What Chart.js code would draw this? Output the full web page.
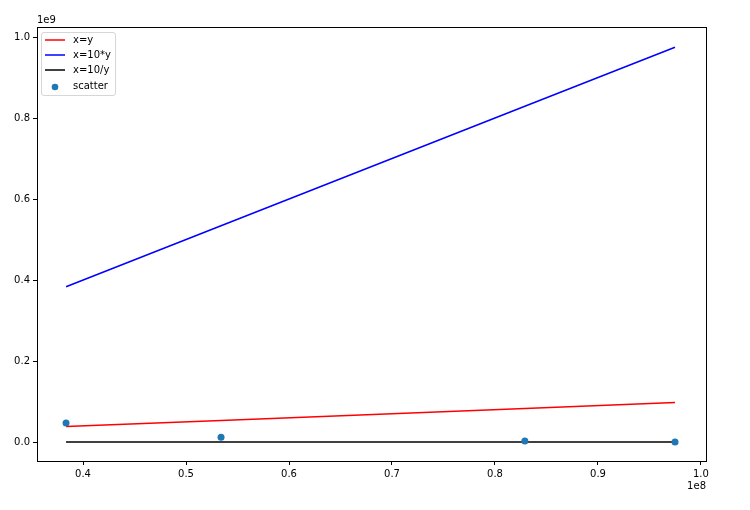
<!DOCTYPE html>
<html>
<head>
<meta charset="utf-8">
<script src="https://cdn.jsdelivr.net/npm/chart.js@4/dist/chart.umd.min.js"></script>
<style>
  html, body { margin: 0; padding: 0; background: #ffffff; }
  #wrap { width: 750px; height: 510px; position: relative; }
</style>
</head>
<body>
<div id="wrap"><canvas id="c" width="750" height="510"></canvas></div>
<script>
// ---- data ----
const xValues      = [38350000, 53400000, 82900000, 97480000];
const lineXeqY     = [38350000, 53400000, 82900000, 97480000];
const lineXeq10Y   = [383500000, 534000000, 829000000, 974800000];
const lineXeq10divY = [2.6e-7, 1.9e-7, 1.2e-7, 1.0e-7];
const scatterY     = [47000000, 12000000, 2500000, 300000];
const seriesNames  = ['x=y', 'x=10*y', 'x=10/y', 'scatter'];
const xTicks = [40000000, 50000000, 60000000, 70000000, 80000000, 90000000, 100000000];
const yTicks = [0, 200000000, 400000000, 600000000, 800000000, 1000000000];
const xOffsetLabel = '1e8';
const yOffsetLabel = '1e9';

const pts = (ys) => xValues.map((x, i) => ({ x: x, y: ys[i] }));
const FONT = '"DejaVu Sans", sans-serif';

const framePlugin = {
  id: 'frame',
  afterDraw(chart) {
    const { ctx, chartArea: a } = chart;
    ctx.save();
    ctx.strokeStyle = '#000000';
    ctx.lineWidth = 1;
    ctx.strokeRect(Math.round(a.left) + 0.5, Math.round(a.top) + 0.5,
                   Math.round(a.right - a.left), Math.round(a.bottom - a.top));
    // offset labels
    ctx.fillStyle = '#000000';
    ctx.font = '10px ' + FONT;
    ctx.textBaseline = 'bottom';
    ctx.textAlign = 'left';
    ctx.fillText(yOffsetLabel, a.left, a.top - 2);
    ctx.textAlign = 'right';
    ctx.textBaseline = 'top';
    ctx.fillText(xOffsetLabel, a.right, a.bottom + 20);

    // legend
    const lx = a.left + 4, ly = a.top + 5, lw = 74, lh = 63;
    ctx.fillStyle = 'rgba(255,255,255,0.8)';
    ctx.strokeStyle = 'rgba(204,204,204,0.8)';
    ctx.lineWidth = 1;
    const r = 2.5;
    ctx.beginPath();
    ctx.moveTo(lx + r + 0.5, ly + 0.5);
    ctx.arcTo(lx + lw + 0.5, ly + 0.5, lx + lw + 0.5, ly + lh + 0.5, r);
    ctx.arcTo(lx + lw + 0.5, ly + lh + 0.5, lx + 0.5, ly + lh + 0.5, r);
    ctx.arcTo(lx + 0.5, ly + lh + 0.5, lx + 0.5, ly + 0.5, r);
    ctx.arcTo(lx + 0.5, ly + 0.5, lx + lw + 0.5, ly + 0.5, r);
    ctx.closePath();
    ctx.fill();
    ctx.stroke();
    ctx.font = '10px ' + FONT;
    ctx.textAlign = 'left';
    ctx.textBaseline = 'middle';
    chart.data.datasets.forEach((ds, i) => {
      const yy = ly + 8 + i * 15;
      if (ds.showLine) {
        ctx.strokeStyle = ds.borderColor;
        ctx.lineWidth = 1.5;
        ctx.beginPath();
        ctx.moveTo(lx + 4, yy);
        ctx.lineTo(lx + 24, yy);
        ctx.stroke();
      } else {
        ctx.fillStyle = ds.backgroundColor;
        ctx.beginPath();
        ctx.arc(lx + 14, yy + 2, 3.3, 0, Math.PI * 2);
        ctx.fill();
      }
      ctx.fillStyle = '#000000';
      ctx.fillText(ds.label, lx + 32, yy + (ds.showLine ? 0 : 1));
    });
    ctx.restore();
  }
};

const lineDs = (label, color, ys) => ({
  label: label, data: pts(ys), showLine: true, borderColor: color,
  backgroundColor: color, borderWidth: 1.5, pointRadius: 0, pointHoverRadius: 0,
  tension: 0, order: 2
});

new Chart(document.getElementById('c'), {
  type: 'scatter',
  data: {
    datasets: [
      lineDs(seriesNames[0], '#ff0000', lineXeqY),
      lineDs(seriesNames[1], '#0000ff', lineXeq10Y),
      lineDs(seriesNames[2], '#000000', lineXeq10divY),
      { label: seriesNames[3], data: pts(scatterY), showLine: false,
        backgroundColor: '#1f77b4', borderColor: '#1f77b4', borderWidth: 0,
        pointRadius: 3.5, pointHoverRadius: 3.5, order: 1 }
    ]
  },
  options: {
    responsive: false,
    animation: false,
    devicePixelRatio: 1,
    layout: { padding: { top: 27, right: 44, left: 0, bottom: 0 } },
    plugins: { legend: { display: false }, tooltip: { enabled: false } },
    scales: {
      x: {
        type: 'linear',
        min: 35530000, max: 100490000,
        afterFit: (s) => { s.height = 49; },
        afterBuildTicks: (s) => { s.ticks = xTicks.map(v => ({ value: v })); },
        border: { display: false },
        grid: { drawOnChartArea: false, drawTicks: true, tickLength: 4, tickColor: '#000000', lineWidth: 1 },
        ticks: { color: '#000000', font: { family: FONT, size: 10 }, padding: 3, maxRotation: 0,
                 callback: (v) => (v / 1e8).toFixed(1) }
      },
      y: {
        type: 'linear',
        min: -46900000, max: 1024700000,
        afterFit: (s) => { s.width = 37; },
        afterBuildTicks: (s) => { s.ticks = yTicks.map(v => ({ value: v })); },
        border: { display: false },
        grid: { drawOnChartArea: false, drawTicks: true, tickLength: 4, tickColor: '#000000', lineWidth: 1 },
        ticks: { color: '#000000', font: { family: FONT, size: 10 }, padding: 3,
                 callback: (v) => (v / 1e9).toFixed(1) }
      }
    }
  },
  plugins: [framePlugin]
});
</script>
</body>
</html>
